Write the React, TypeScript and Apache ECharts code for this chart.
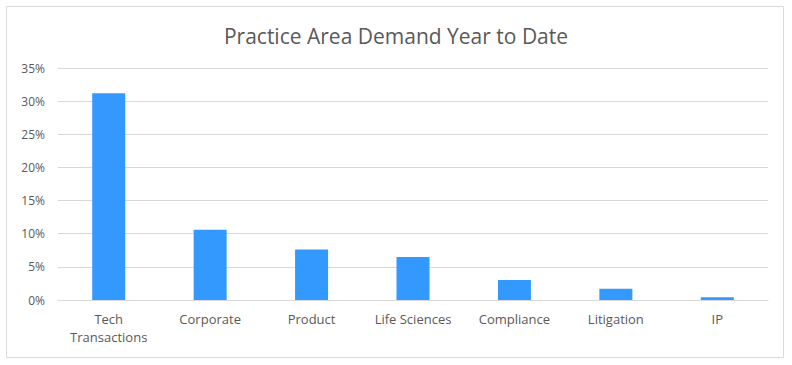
import React, { useEffect, useRef } from "react";
import * as echarts from "echarts";

const categories = ["Tech\nTransactions", "Corporate", "Product", "Life Sciences", "Compliance", "Litigation", "IP"];
const values = [0.312, 0.106, 0.076, 0.065, 0.030, 0.017, 0.004];
const yTicks = { min: 0, max: 0.35, interval: 0.05 };
const title = "Practice Area Demand Year to Date";

export default function App() {
  const ref = useRef<HTMLDivElement>(null);
  useEffect(() => {
    if (!ref.current) return;
    const chart = echarts.init(ref.current, undefined, { renderer: "svg" });
    const font = "'Open Sans', 'Noto Sans', sans-serif";
    chart.setOption({
      animation: false,
      backgroundColor: "#ffffff",
      textStyle: { fontFamily: font },
      title: {
        text: title,
        left: "center",
        top: 20,
        textStyle: { fontFamily: font, fontSize: 21, fontWeight: "normal", color: "#595959" },
      },
      graphic: [
        {
          type: "rect",
          shape: { x: 6.5, y: 6.5, width: 777, height: 351 },
          style: { fill: "none", stroke: "#d9d9d9", lineWidth: 1 },
          silent: true,
        },
      ],
      grid: { left: 58, right: 24, top: 68, bottom: 65 },
      xAxis: {
        type: "category",
        data: categories,
        axisLine: { show: true, lineStyle: { color: "#d9d9d9" } },
        axisTick: { show: false },
        axisLabel: { color: "#595959", fontSize: 13, margin: 10, lineHeight: 18, interval: 0, fontFamily: font },
      },
      yAxis: {
        type: "value",
        min: yTicks.min,
        max: yTicks.max,
        interval: yTicks.interval,
        axisLine: { show: false },
        axisTick: { show: false },
        splitLine: { lineStyle: { color: "#d9d9d9" } },
        axisLabel: {
          color: "#595959",
          fontSize: 12,
          margin: 13,
          fontFamily: font,
          formatter: (v: number) => `${Math.round(v * 100)}%`,
        },
      },
      series: [
        {
          type: "bar",
          data: values,
          barWidth: 33,
          itemStyle: { color: "#3399ff" },
        },
      ],
    });
    return () => chart.dispose();
  }, []);
  return <div ref={ref} style={{ position: "fixed", left: 0, top: 0, width: 792, height: 365 }} />;
}
